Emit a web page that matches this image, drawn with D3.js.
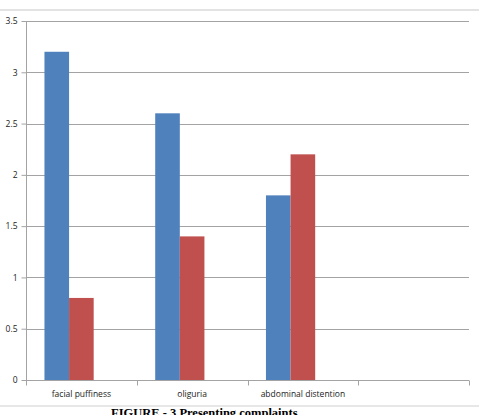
<!DOCTYPE html>
<html>
<head>
<meta charset="utf-8">
<script src="https://cdn.jsdelivr.net/npm/d3@7"></script>
<style>
  body { margin: 0; background: #fff; }
  svg { display: block; }
  .tick text { font-family: "Open Sans", "Liberation Sans", sans-serif; font-size: 8.5px; fill: #222; }
</style>
</head>
<body>
<div id="chart"></div>
<script>
var categories = ["facial puffiness", "oliguria", "abdominal distention", ""];
var series1 = [3.2, 2.6, 1.8, null];
var series2 = [0.8, 1.4, 2.2, null];
var series3 = [null, null, null, null]; // empty third series, keeps the Excel spacing
var yTicks = [0, 0.5, 1, 1.5, 2, 2.5, 3, 3.5];
var colors = ["#4f81bd", "#c0504d", "#9bbb59"];

var width = 479, height = 415;
var margin = { top: 21, right: 10, bottom: 35, left: 26 };

var svg = d3.select("#chart").append("svg")
  .attr("width", width)
  .attr("height", height);

// faint page rules above and below the chart
svg.append("line").attr("x1", 0).attr("x2", width).attr("y1", 10).attr("y2", 10)
  .attr("stroke", "#e3e3e3").attr("stroke-width", 2);
svg.append("line").attr("x1", 0).attr("x2", width).attr("y1", 406).attr("y2", 406)
  .attr("stroke", "#cfcfcf").attr("stroke-width", 1);

var x = d3.scaleBand()
  .domain(d3.range(categories.length))
  .range([margin.left, width - margin.right])
  .paddingInner(0).paddingOuter(0);

var y = d3.scaleLinear()
  .domain([0, 3.5])
  .range([height - margin.bottom, margin.top]);

var seriesAll = [series1, series2, series3];
// outer gap = 0.75 bar width on each side (Excel gap width 150%)
var xs = d3.scaleBand()
  .domain(d3.range(seriesAll.length))
  .range([0, x.bandwidth()])
  .paddingInner(0)
  .paddingOuter(0.75);

var gridColor = "#a3a3a3";

// gridlines
svg.append("g").selectAll("line")
  .data(yTicks.filter(function(d) { return d > 0; }))
  .enter().append("line")
  .attr("x1", margin.left).attr("x2", width - margin.right)
  .attr("y1", function(d) { return Math.round(y(d)) + 0.5; })
  .attr("y2", function(d) { return Math.round(y(d)) + 0.5; })
  .attr("stroke", gridColor).attr("stroke-width", 1);

// bars
seriesAll.forEach(function(vals, si) {
  svg.append("g").selectAll("rect")
    .data(vals)
    .enter().filter(function(d) { return d != null; }).append("rect")
    .attr("x", function(d, i) { return x(i) + xs(si); })
    .attr("width", xs.bandwidth())
    .attr("y", function(d) { return y(d); })
    .attr("height", function(d) { return y(0) - y(d); })
    .attr("fill", colors[si]);
});

// y axis
var yAxis = svg.append("g")
  .attr("transform", "translate(" + (margin.left + 0.5) + ",0)")
  .call(d3.axisLeft(y).tickValues(yTicks).tickSize(5).tickPadding(4)
    .tickFormat(function(d) { return String(d); }));
yAxis.selectAll("line, path").attr("stroke", gridColor);
yAxis.select(".domain").attr("d", "M0," + y(3.5) + "V" + y(0));

// x axis with ticks at category boundaries
var base = Math.round(y(0)) + 0.5;
var xAxis = svg.append("g");
xAxis.append("line")
  .attr("x1", margin.left).attr("x2", width - margin.right)
  .attr("y1", base).attr("y2", base)
  .attr("stroke", gridColor);
xAxis.selectAll("line.b")
  .data(d3.range(categories.length + 1))
  .enter().append("line").attr("class", "b")
  .attr("x1", function(i) { return Math.round(margin.left + i * x.step()) + 0.5; })
  .attr("x2", function(i) { return Math.round(margin.left + i * x.step()) + 0.5; })
  .attr("y1", base).attr("y2", base + 5)
  .attr("stroke", gridColor);
xAxis.selectAll("text")
  .data(categories)
  .enter().append("text")
  .attr("x", function(d, i) { return x(i) + x.bandwidth() / 2; })
  .attr("y", base + 16)
  .attr("text-anchor", "middle")
  .style("font-family", "'Open Sans', 'Liberation Sans', sans-serif")
  .style("font-size", "8.5px")
  .attr("fill", "#222")
  .text(function(d) { return d; });

// caption, partly below the frame as in the source scan
svg.append("text")
  .attr("x", 111).attr("y", 417)
  .style("font-family", "'Liberation Serif', 'Times New Roman', serif")
  .style("font-weight", "bold")
  .style("font-size", "12.5px")
  .attr("fill", "#000")
  .text("FIGURE - 3 Presenting complaints");
</script>
</body>
</html>
